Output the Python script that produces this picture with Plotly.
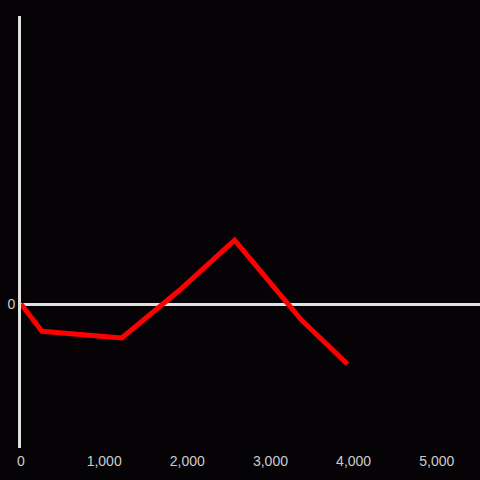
import plotly.graph_objects as go

x_vals = [0, 252, 1212, 1909, 2569, 3373, 3925]
y_vals = [0, -0.19, -0.236, 0.097, 0.444, -0.111, -0.417]
x_ticks = [0, 1000, 2000, 3000, 4000, 5000]
x_tick_text = ["0", "1,000", "2,000", "3,000", "4,000", "5,000"]

fig = go.Figure()
fig.add_trace(go.Scatter(x=x_vals, y=y_vals, mode="lines",
                         line=dict(color="#ff0000", width=5)))
fig.update_layout(
    width=480, height=480,
    margin=dict(l=21, r=0, t=16, b=32),
    paper_bgcolor="#050306", plot_bgcolor="#050306",
    showlegend=False,
    font=dict(family="Liberation Sans, Arial", size=14, color="#cccccc"),
    xaxis=dict(range=[0, 5520], tickvals=x_ticks, ticktext=x_tick_text,
               showgrid=False, zeroline=False, showline=False, ticks="",
               ticklabelstandoff=3),
    yaxis=dict(range=[-1, 2], tickvals=[0], ticktext=["0"], showgrid=False,
               zeroline=True, zerolinecolor="#e0e0e0", zerolinewidth=3,
               showline=True, linecolor="#e0e0e0", linewidth=3, ticks=""),
)
fig.write_html("out.html", config={"displayModeBar": False},
               post_script="document.body.style.margin='0';document.body.style.background='#050306';")
